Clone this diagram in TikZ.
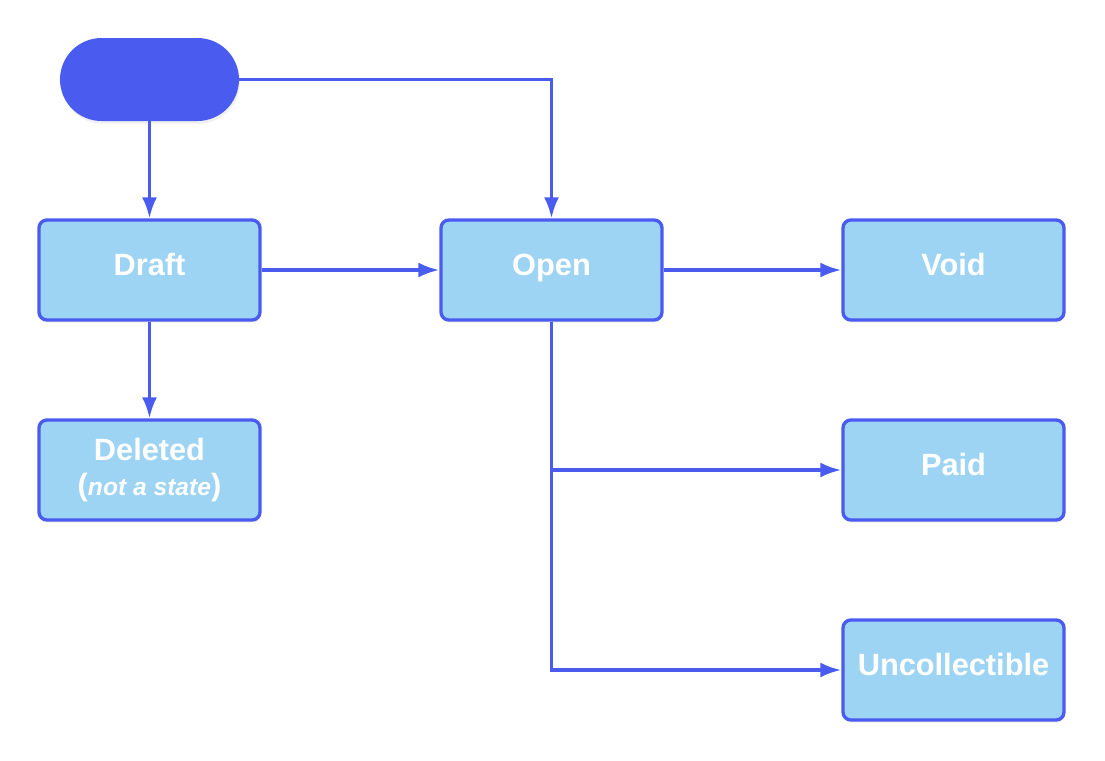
\documentclass[tikz,border=0pt]{standalone}
\usepackage{fontspec}
\setmainfont{Liberation Sans}
\usepackage{tikz}
\usetikzlibrary{calc}
\usetikzlibrary{arrows.meta}
\usetikzlibrary{shadows}
\definecolor{lineblue}{RGB}{74,92,239}
\definecolor{boxblue}{RGB}{157,211,243}
\tikzset{>={Latex[length=4.2mm,width=3mm]}}
\tikzset{state/.style = {shape=rectangle,draw=lineblue,fill=boxblue,line width=1.9pt,rounded corners=4.5pt,minimum width=4.42cm,minimum height=2cm,inner sep=0pt,align=center,text=white,font=\fontsize{17.5}{20}\selectfont\bfseries,drop shadow={opacity=0.12,shadow xshift=0.6pt,shadow yshift=-1.5pt}}}
\tikzset{oneline/.style = {text height=0.45cm,text depth=0.25cm}}
\tikzset{startstate/.style = {shape=rectangle,fill=lineblue,rounded corners=0.83cm,minimum width=3.58cm,minimum height=1.66cm,inner sep=0pt,drop shadow={opacity=0.12,shadow xshift=0.6pt,shadow yshift=-1.5pt}}}
\tikzset{edge/.style = {->,draw=lineblue,line width=1.9pt}}

\begin{document}
\begin{tikzpicture}
            \useasboundingbox (0,0) rectangle (22.1,-15.2);

            % Vertices
            \node[startstate] (start) at (2.99,-1.59) {};
            \node[state,oneline] (draft) at (2.99,-5.4) {Draft};
            \node[state,oneline] (open) at (11.03,-5.4) {Open};
            \node[state,oneline] (void) at (19.07,-5.4) {Void};
            \node[state] (deleted) at (2.99,-9.4) {Deleted\\({\fontsize{14}{16}\selectfont\textit{not a state}})};
            \node[state,oneline] (paid) at (19.07,-9.4) {Paid};
            \node[state,oneline] (uncollectible) at (19.07,-13.4) {Uncollectible};

            % Edges
            % start
            \draw[edge] (start) -- (draft);
            \draw[edge] (start) -| (open);

            % draft
            \draw[edge] (draft) -- (open);
            \draw[edge] (draft) -- (deleted);

            % open
            \draw[edge] (open) -- (void);
            \draw[edge] (open) |- (paid);
            \draw[edge] (open) |- (uncollectible);
        \end{tikzpicture}
\end{document}
